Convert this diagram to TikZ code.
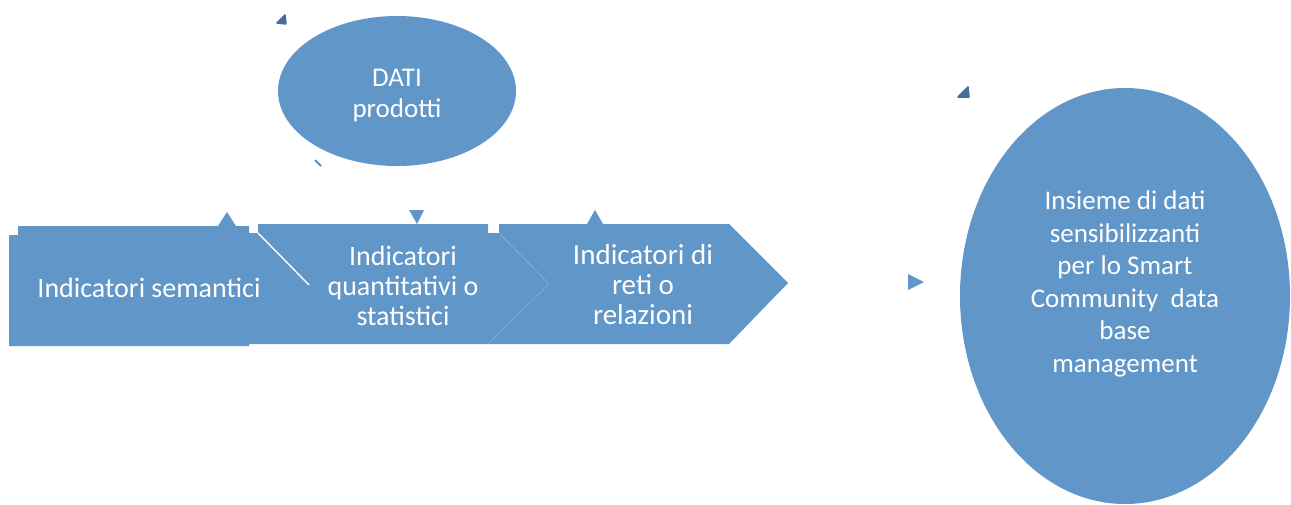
\documentclass[tikz,border=0pt]{standalone}
\usepackage{fontspec}
\setmainfont{Carlito}
\usetikzlibrary{shapes.geometric}
\definecolor{boxblue}{HTML}{6096C8}
\definecolor{markblue}{HTML}{466E9C}
\definecolor{faintline}{HTML}{8DB2D8}
\tikzset{
  lbl/.style={text=white, align=center, inner sep=0pt, font=\fontsize{28}{30}\selectfont},
  blob/.style={ellipse, fill=boxblue, draw=none, inner sep=0pt},
  tri/.style={fill=boxblue, draw=none},
  darkmark/.style={fill=markblue, draw=markblue, line join=round, line width=1.5pt}
}
\begin{document}
\begin{tikzpicture}[x=1pt,y=-1pt]
\useasboundingbox (0,0) rectangle (1291,504);
% ellipses
\node[blob, minimum width=238pt, minimum height=150pt] (dati) at (397,91) {};
\node[blob, minimum width=330pt, minimum height=416pt] (insieme) at (1125,296) {};
% chevron row
\fill[boxblue] (18,226) -- (249,226) -- (249,233) -- (258,233) -- (258,224) -- (488,224)
  -- (488,233) -- (499,233) -- (499,224) -- (729,224) -- (788,283) -- (729,344)
  -- (249,344) -- (249,346) -- (9,346) -- (9,235) -- (18,235) -- cycle;
\coordinate (n1) at (258,233);
\coordinate (n2) at (309,285);
\coordinate (m1) at (499,233);
\coordinate (m2) at (549,284);
\coordinate (m3) at (489,343);
\draw[white, line width=1.4pt] (n1) -- (n2);
\draw[faintline, line width=0.6pt] (m1) -- (m2) -- (m3);
% texts
\node[lbl] (t1) at (149,288) {Indicatori semantici};
\node[lbl] (t2) at (403,286) {Indicatori\\quantitativi o\\statistici};
\node[lbl, font=\fontsize{29}{30}\selectfont] (t3) at (643,285) {Indicatori di\\reti o\\relazioni};
\node[lbl, font=\fontsize{27}{31}\selectfont] (t4) at (397,96) {DATI\\prodotti};
\node[lbl, font=\fontsize{27}{32.5}\selectfont] (t5) at (1125,284) {Insieme di dati\\sensibilizzanti\\per lo Smart\\Community~~data\\base\\management};
% arrowheads
\fill[tri] (227,212) -- (236,226) -- (218,226) -- cycle;
\fill[tri] (409,210) -- (424,210) -- (417,224) -- cycle;
\fill[tri] (595,210) -- (603,224) -- (587,224) -- cycle;
\fill[tri] (908,274) -- (924,282) -- (908,290) -- cycle;
% small dark marks
\filldraw[darkmark] (277,23) -- (285,15) -- (286,24) -- cycle;
\filldraw[darkmark] (958,97) -- (968,87) -- (969,97) -- cycle;
\draw[markblue!80!boxblue, line width=1.5pt] (315,160) -- (321,166);
\end{tikzpicture}
\end{document}
